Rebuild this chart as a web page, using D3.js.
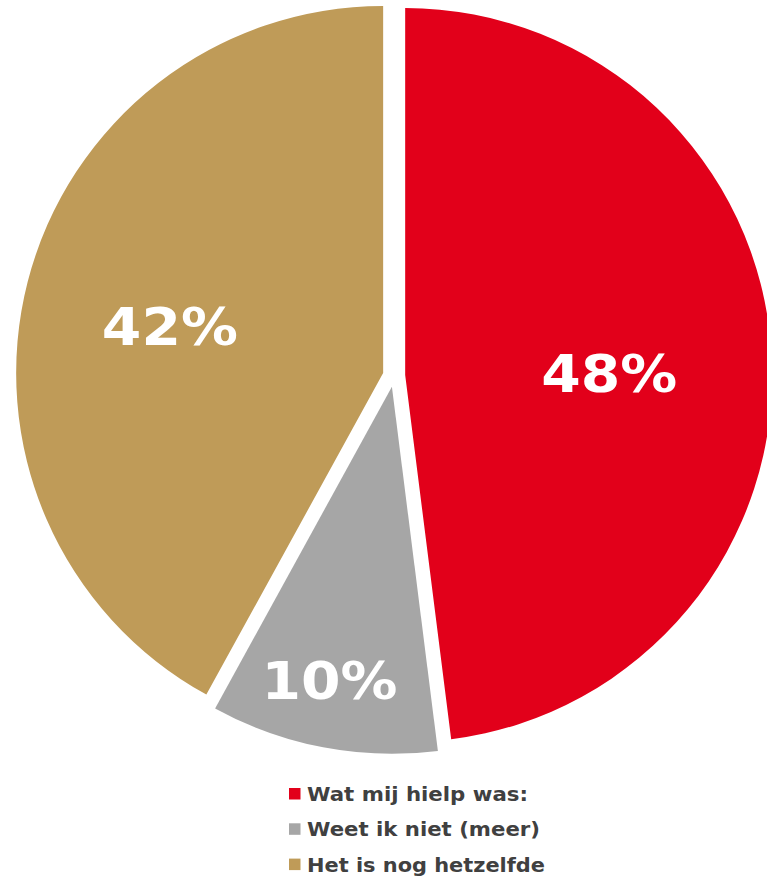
<!DOCTYPE html>
<html>
<head>
<meta charset="utf-8">
<script src="https://cdn.jsdelivr.net/npm/d3@7"></script>
<style>
  html, body { margin: 0; padding: 0; background: #fff; }
  svg { display: block; }
</style>
</head>
<body>
<svg id="chart" width="767" height="877"></svg>
<script>
// Answers to the survey question, in percent
const categories = ["Wat mij hielp was:", "Weet ik niet (meer)", "Het is nog hetzelfde"];
const values = [48, 10, 42];
const colors = ["#E2001A", "#A6A6A6", "#BF9B58"];

const W = 767, H = 877;
const cx = 394, cy = 375.8, R = 367;
const explode = 11.2;                   // how far every slice is pulled out
const labelFrac = [0.557, 0.82, 0.6];   // label distance along each slice's bisector
const labelNudge = [[0, 11], [-6, -2], [0, 8]]; // small extra offset of each label
const labelWidth = 136;

const svg = d3.select("#chart");

const pie = d3.pie().sort(null).value(d => d);
const arcs = pie(values);
const arc = d3.arc().innerRadius(0).outerRadius(R);

const g = svg.append("g").attr("transform", `translate(${cx},${cy})`);

const mid = d => (d.startAngle + d.endAngle) / 2;

const slices = g.selectAll("g.slice")
  .data(arcs)
  .join("g")
  .attr("class", "slice")
  .attr("transform", d => `translate(${Math.sin(mid(d)) * explode},${-Math.cos(mid(d)) * explode})`);

slices.append("path")
  .attr("d", arc)
  .attr("fill", (d, i) => colors[i]);

slices.append("text")
  .attr("x", (d, i) => Math.sin(mid(d)) * R * labelFrac[i] + labelNudge[i][0])
  .attr("y", (d, i) => -Math.cos(mid(d)) * R * labelFrac[i] + labelNudge[i][1])
  .attr("text-anchor", "middle")
  .attr("dy", "0.36em")
  .attr("font-family", "'DejaVu Sans', Verdana, sans-serif")
  .attr("font-weight", "bold")
  .attr("font-size", 51)
  .attr("fill", "#fff")
  .attr("textLength", labelWidth)
  .attr("lengthAdjust", "spacingAndGlyphs")
  .text(d => d.value + "%");

// Legend
const legendX = 289, legendY0 = 794, legendStep = 35.3;
const legendWidths = [221, 233, 238];
const legend = svg.append("g");
const rows = legend.selectAll("g")
  .data(categories)
  .join("g")
  .attr("transform", (d, i) => `translate(${legendX},${legendY0 + i * legendStep})`);

rows.append("rect")
  .attr("x", 0).attr("y", -6)
  .attr("width", 11.5).attr("height", 11.5)
  .attr("fill", (d, i) => colors[i]);

rows.append("text")
  .attr("x", 18)
  .attr("y", 0)
  .attr("dy", "0.36em")
  .attr("font-family", "'DejaVu Sans', Verdana, sans-serif")
  .attr("font-weight", "bold")
  .attr("font-size", 19.5)
  .attr("fill", "#404040")
  .attr("textLength", (d, i) => legendWidths[i])
  .attr("lengthAdjust", "spacingAndGlyphs")
  .text(d => d);
</script>
</body>
</html>
